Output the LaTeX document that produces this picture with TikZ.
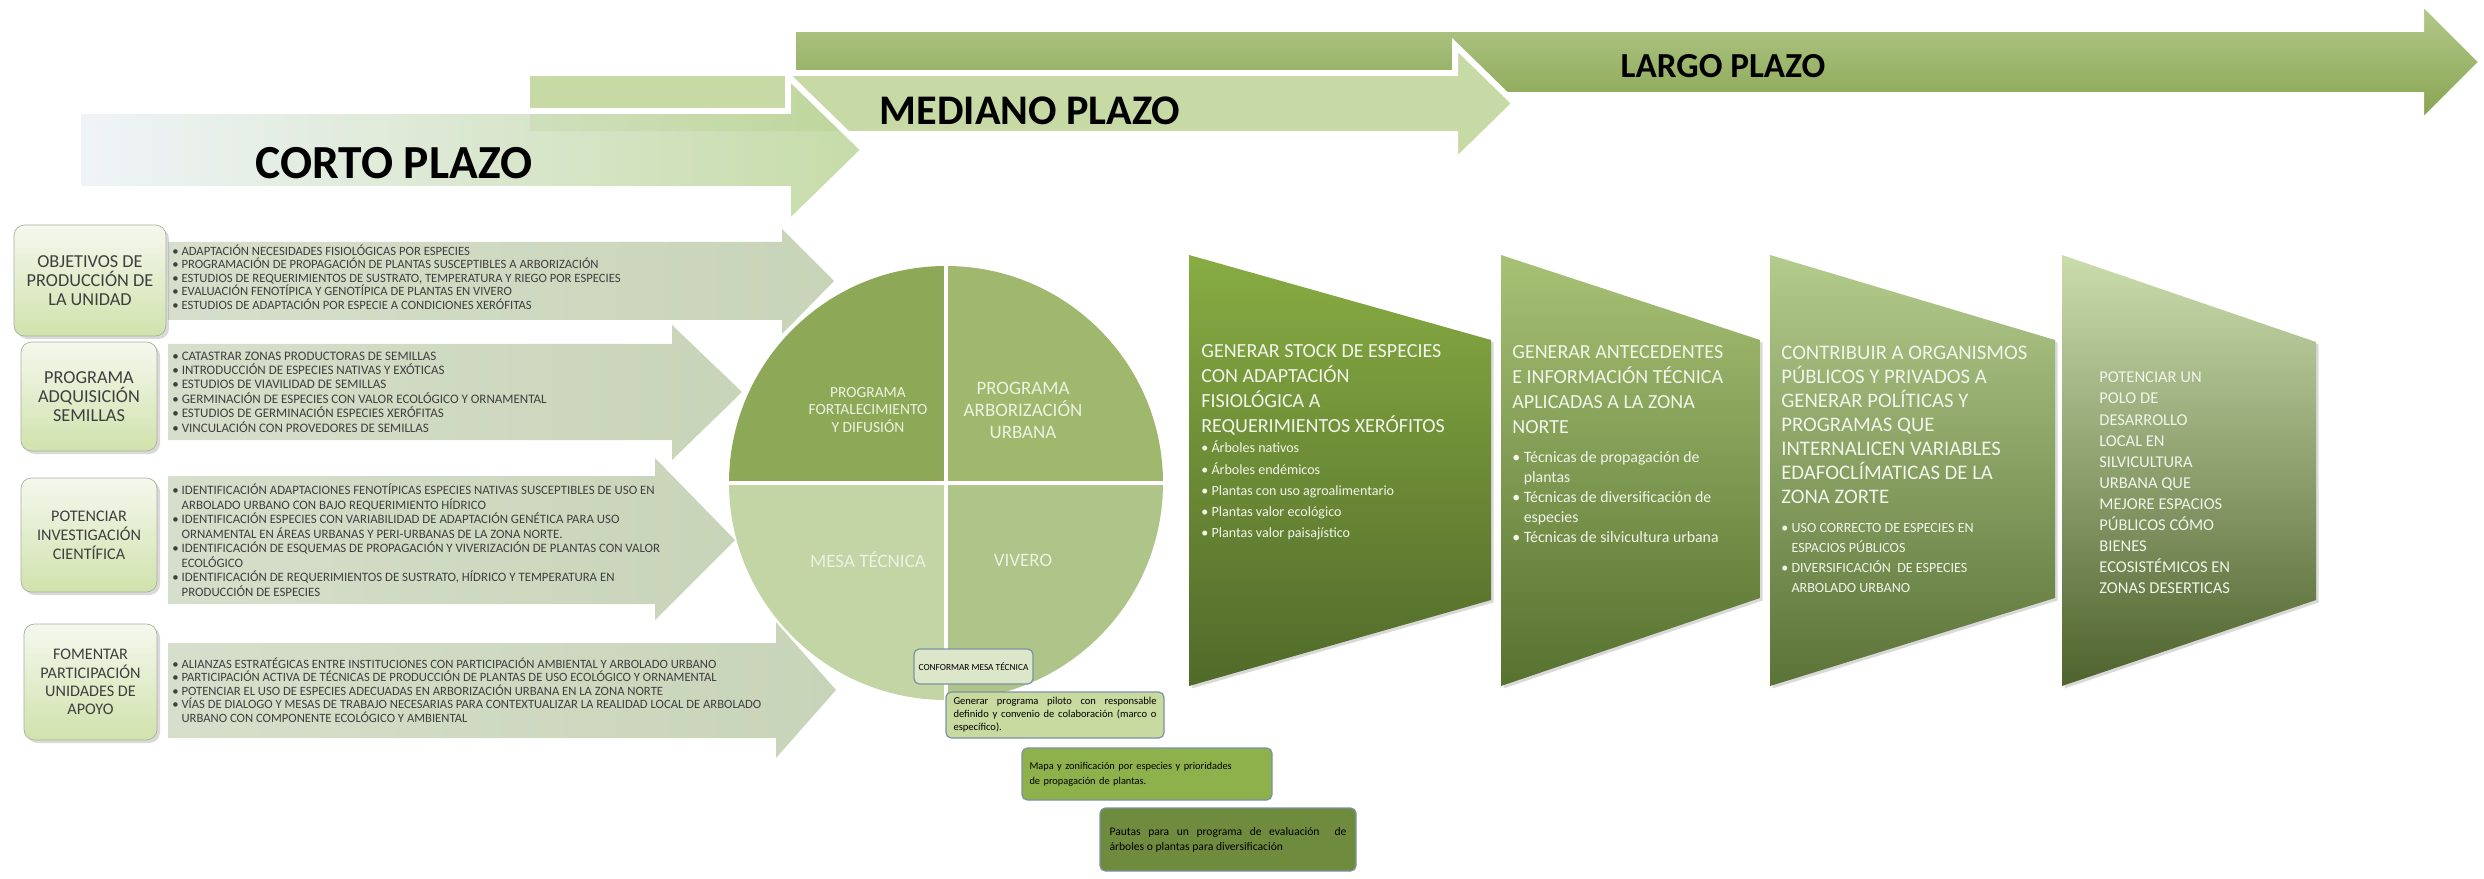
\documentclass[tikz,border=0pt]{standalone}
\usepackage{fontspec}
\setmainfont{Carlito}
\usetikzlibrary{shadows}

\definecolor{largoA}{HTML}{B5CB8E}
\definecolor{largoB}{HTML}{86A24E}
\definecolor{medianoC}{HTML}{C7DAA5}
\definecolor{cortoA}{HTML}{EDF2F7}
\definecolor{cortoB}{HTML}{BCD599}
\definecolor{arrowA}{HTML}{D6DFCB}
\definecolor{arrowB}{HTML}{C8D4B8}
\definecolor{boxA}{HTML}{F5F8EE}
\definecolor{boxB}{HTML}{D0E2AC}
\definecolor{boxline}{HTML}{A9AFA0}
\definecolor{txtgray}{HTML}{3F3F3F}
\definecolor{qTL}{HTML}{8DA957}
\definecolor{qTR}{HTML}{9FB86E}
\definecolor{qBL}{HTML}{C3D4A5}
\definecolor{qBR}{HTML}{AEC489}
\definecolor{qtext}{HTML}{EDF2E1}
\definecolor{smallline}{HTML}{7D92A3}
\definecolor{boxS1}{HTML}{DCE6C8}
\definecolor{boxS2}{HTML}{C8DAA0}
\definecolor{boxS3}{HTML}{8EB14C}
\definecolor{boxS4}{HTML}{6F8C3E}
\definecolor{t1a}{HTML}{88AC43}
\definecolor{t1b}{HTML}{506A29}
\definecolor{t2a}{HTML}{A7C275}
\definecolor{t2b}{HTML}{57712F}
\definecolor{t3a}{HTML}{B3CB8B}
\definecolor{t3b}{HTML}{5C7338}
\definecolor{t4a}{HTML}{CBDCAD}
\definecolor{t4b}{HTML}{4F632E}
\definecolor{trtext}{HTML}{F1F5EA}

\newcommand{\itm}{\textbullet\ }
\newcommand{\hangsp}{\phantom{\textbullet\ }}

\tikzset{
  plazo/.style={inner sep=0},
  horizon/.style={draw=white, line width=3.4pt},
  rowarrow/.style={left color=arrowA, right color=arrowB},
  rowtext/.style={anchor=west, inner sep=0, align=left, text=txtgray},
  labelbox/.style={draw=boxline, rounded corners=6pt, top color=boxA, bottom color=boxB, align=center, text=txtgray, inner sep=2pt,
    drop shadow={opacity=0.3, shadow xshift=0.6mm, shadow yshift=-0.6mm}},
  quadtext/.style={text=qtext, align=center, inner sep=0},
  smallbox/.style={draw=smallline, rounded corners=3pt, line width=0.7pt, inner sep=1pt, text=black},
  nohyph/.style={execute at begin node={\hyphenpenalty=10000\relax}},
  traptitle/.style={anchor=west, align=left, inner sep=0, text=trtext, font=\fontsize{11.4pt}{14.2pt}\selectfont},
  trapitems/.style={anchor=west, align=left, inner sep=0, text=trtext, font=\fontsize{8pt}{11.4pt}\selectfont},
}

\begin{document}
\begin{tikzpicture}[x=0.2mm, y=-0.2mm]
\useasboundingbox (0,0) rectangle (2484,879);

% the three horizons
\path[horizon, top color=largoA, bottom color=largoB]
  (793,29) -- (2421,29) -- (2421,1) -- (2482,62) -- (2421,123) -- (2421,95) -- (793,95) -- cycle;
\path[horizon, fill=medianoC]
  (527,73) -- (1455,73) -- (1455,45) -- (1515,103.5) -- (1455,162) -- (1455,134) -- (527,134) -- cycle;
\path[horizon, left color=cortoA, right color=cortoB, fill opacity=0.85]
  (78,111) -- (788,111) -- (788,76) -- (864,150) -- (788,224) -- (788,189) -- (78,189) -- cycle;

\node[plazo, font=\fontsize{27pt}{30pt}\selectfont\bfseries] (corto) at (394,163) {CORTO PLAZO};
\node[plazo, font=\fontsize{24pt}{27pt}\selectfont\bfseries] (mediano) at (1030,111) {MEDIANO PLAZO};
\node[plazo, font=\fontsize{20pt}{23pt}\selectfont\bfseries] (largo) at (1723,66) {LARGO PLAZO};

% row arrows
\foreach \bt/\bb/\hb/\ha/\hz/\tx/\ty in {242/320/782/229/334/834/281, 344/440/672/325/460/742/392,
    476/604/655/458/620/735/540, 643/738/776/622/758/836/690}
  \path[rowarrow] (168,\bt) -- (\hb,\bt) -- (\hb,\ha) -- (\tx,\ty) -- (\hb,\hz) -- (\hb,\bb) -- (168,\bb) -- cycle;

\node[rowtext, font=\fontsize{7.2pt}{7.7pt}\selectfont] (objtxt) at (172,277) {\itm ADAPTACIÓN NECESIDADES FISIOLÓGICAS POR ESPECIES\\
  \itm PROGRAMACIÓN DE PROPAGACIÓN DE PLANTAS SUSCEPTIBLES A ARBORIZACIÓN\\
  \itm ESTUDIOS DE REQUERIMIENTOS DE SUSTRATO, TEMPERATURA Y RIEGO POR ESPECIES\\
  \itm EVALUACIÓN FENOTÍPICA Y GENOTÍPICA DE PLANTAS EN VIVERO\\
  \itm ESTUDIOS DE ADAPTACIÓN POR ESPECIE A CONDICIONES XERÓFITAS};
\node[rowtext, font=\fontsize{7.4pt}{8.2pt}\selectfont] (semtxt) at (172,392) {\itm CATASTRAR ZONAS PRODUCTORAS DE SEMILLAS\\
  \itm INTRODUCCIÓN DE ESPECIES NATIVAS Y EXÓTICAS\\
  \itm ESTUDIOS DE VIAVILIDAD DE SEMILLAS\\
  \itm GERMINACIÓN DE ESPECIES CON VALOR ECOLÓGICO Y ORNAMENTAL\\
  \itm ESTUDIOS DE GERMINACIÓN ESPECIES XERÓFITAS\\
  \itm VINCULACIÓN CON PROVEDORES DE SEMILLAS};
\node[rowtext, font=\fontsize{7.3pt}{8.25pt}\selectfont] (invtxt) at (172,540) {\itm IDENTIFICACIÓN ADAPTACIONES FENOTÍPICAS ESPECIES NATIVAS SUSCEPTIBLES DE USO EN\\
  \hangsp ARBOLADO URBANO CON BAJO REQUERIMIENTO HÍDRICO\\
  \itm IDENTIFICACIÓN ESPECIES CON VARIABILIDAD DE ADAPTACIÓN GENÉTICA PARA USO\\
  \hangsp ORNAMENTAL EN ÁREAS URBANAS Y PERI-URBANAS DE LA ZONA NORTE.\\
  \itm IDENTIFICACIÓN DE ESQUEMAS DE PROPAGACIÓN Y VIVERIZACIÓN DE PLANTAS CON VALOR\\
  \hangsp ECOLÓGICO\\
  \itm IDENTIFICACIÓN DE REQUERIMIENTOS DE SUSTRATO, HÍDRICO Y TEMPERATURA EN\\
  \hangsp PRODUCCIÓN DE ESPECIES};
\node[rowtext, font=\fontsize{7.2pt}{7.7pt}\selectfont] (apotxt) at (172,690) {\itm ALIANZAS ESTRATÉGICAS ENTRE INSTITUCIONES CON PARTICIPACIÓN AMBIENTAL Y ARBOLADO URBANO\\
  \itm PARTICIPACIÓN ACTIVA DE TÉCNICAS DE PRODUCCIÓN DE PLANTAS DE USO ECOLÓGICO Y ORNAMENTAL\\
  \itm POTENCIAR EL USO DE ESPECIES ADECUADAS EN ARBORIZACIÓN URBANA EN LA ZONA NORTE\\
  \itm VÍAS DE DIALOGO Y MESAS DE TRABAJO NECESARIAS PARA CONTEXTUALIZAR LA REALIDAD LOCAL DE ARBOLADO\\
  \hangsp URBANO CON COMPONENTE ECOLÓGICO Y AMBIENTAL};

% row labels
\node[labelbox, minimum width=30.4mm, minimum height=22.2mm, font=\fontsize{10.4pt}{11pt}\selectfont] (obj) at (90,280.5) {OBJETIVOS DE\\PRODUCCIÓN DE\\LA UNIDAD};
\node[labelbox, minimum width=27.2mm, minimum height=21.8mm, font=\fontsize{10.4pt}{11pt}\selectfont] (sem) at (89,396.5) {PROGRAMA\\ADQUISICIÓN\\SEMILLAS};
\node[labelbox, minimum width=27.2mm, minimum height=22.8mm, font=\fontsize{9.2pt}{10.8pt}\selectfont] (inv) at (89,535) {POTENCIAR\\INVESTIGACIÓN\\CIENTÍFICA};
\node[labelbox, minimum width=26.6mm, minimum height=23.2mm, font=\fontsize{9.2pt}{10.4pt}\selectfont] (apo) at (90.5,682) {FOMENTAR\\PARTICIPACIÓN\\UNIDADES DE\\APOYO};

% circle of programmes
\coordinate (c) at (946,483);
\begin{scope}
  \clip (c) circle (217);
  \fill[qTL] (c) rectangle ++(-220,-220);
  \fill[qTR] (c) rectangle ++(220,-220);
  \fill[qBL] (c) rectangle ++(-220,220);
  \fill[qBR] (c) rectangle ++(220,220);
\end{scope}
\draw[white, line width=2.3pt] (c) ++(0,-220) -- ++(0,440);
\draw[white, line width=2.3pt] (c) ++(-220,0) -- ++(440,0);

\node[quadtext, font=\fontsize{8.8pt}{10.2pt}\selectfont] (fortal) at (868,410) {PROGRAMA\\FORTALECIMIENTO\\Y DIFUSIÓN};
\node[quadtext, font=\fontsize{10.8pt}{12.5pt}\selectfont] (arbor) at (1023,410) {PROGRAMA\\ARBORIZACIÓN\\URBANA};
\node[quadtext, font=\fontsize{10.8pt}{12.5pt}\selectfont] (mesa) at (868,560) {MESA TÉCNICA};
\node[quadtext, font=\fontsize{10.8pt}{12.5pt}\selectfont] (vivero) at (1023,560) {VIVERO};

% steps of the mesa tecnica
\node[smallbox, fill=boxS1, minimum width=23.8mm, minimum height=7mm, font=\fontsize{5.3pt}{6pt}\selectfont] (conformar) at (973.5,666.5) {CONFORMAR MESA TÉCNICA};
\node[smallbox, nohyph, fill=boxS2, minimum width=43.6mm, minimum height=9.2mm, text width=40.6mm, align=justify,
  font=\fontsize{6pt}{7.4pt}\selectfont] (piloto) at (1055,715) {Generar programa piloto con responsable definido y convenio de colaboración (marco o específico).};
\node[smallbox, fill=boxS3, minimum width=50mm, minimum height=10.4mm, text width=47mm, align=left,
  font=\fontsize{5.9pt}{8.5pt}\selectfont] (mapa) at (1147,774) {Mapa y zonificación por especies y prioridades\\de propagación de plantas.};
\node[smallbox, nohyph, fill=boxS4, minimum width=51.2mm, minimum height=12.6mm, text width=47.4mm, align=justify,
  font=\fontsize{6.6pt}{8.5pt}\selectfont] (pautas) at (1228,839.5) {Pautas para un programa de evaluación \ de\linebreak árboles o plantas para diversificación};

% results
\foreach \xl/\xr/\ytr/\ybr/\ctop/\cbot in {1189/1491/340/600/t1a/t1b, 1501/1760/340/598/t2a/t2b,
    1770/2055/340/598/t3a/t3b, 2062/2316/342/600/t4a/t4b}
  \path[top color=\ctop, bottom color=\cbot, drop shadow={opacity=0.3, shadow xshift=0.5mm, shadow yshift=-0.5mm}]
    (\xl,255) -- (\xr,\ytr) -- (\xr,\ybr) -- (\xl,686) -- cycle;

\node[traptitle] (stock) at (1201,389.5) {GENERAR STOCK DE ESPECIES\\CON ADAPTACIÓN\\FISIOLÓGICA A\\REQUERIMIENTOS XERÓFITOS};
\node[trapitems, font=\fontsize{8pt}{12pt}\selectfont] (stocklist) at (1201,490.5) {\itm Árboles nativos\\\itm Árboles endémicos\\\itm Plantas con uso agroalimentario\\\itm Plantas valor ecológico\\\itm Plantas valor paisajístico};

\node[traptitle] (antec) at (1512,389.5) {GENERAR ANTECEDENTES\\E INFORMACIÓN TÉCNICA\\APLICADAS A LA ZONA\\NORTE};
\node[trapitems, font=\fontsize{9pt}{11.4pt}\selectfont] (anteclist) at (1512,497) {\itm Técnicas de propagación de\\\hangsp plantas\\\itm Técnicas de diversificación de\\\hangsp especies\\\itm Técnicas de silvicultura urbana};

\node[traptitle, font=\fontsize{11.8pt}{13.7pt}\selectfont] (contrib) at (1781,425) {CONTRIBUIR A ORGANISMOS\\PÚBLICOS Y PRIVADOS A\\GENERAR POLÍTICAS Y\\PROGRAMAS QUE\\INTERNALICEN VARIABLES\\EDAFOCLÍMATICAS DE LA\\ZONA ZORTE};
\node[trapitems] (contriblist) at (1781,558) {\itm USO CORRECTO DE ESPECIES EN\\\hangsp ESPACIOS PÚBLICOS\\\itm DIVERSIFICACIÓN \ DE ESPECIES\\\hangsp ARBOLADO URBANO};

\node[trapitems, font=\fontsize{9.4pt}{12pt}\selectfont] (polo) at (2099,483) {POTENCIAR UN\\POLO DE\\DESARROLLO\\LOCAL EN\\SILVICULTURA\\URBANA QUE\\MEJORE ESPACIOS\\PÚBLICOS CÓMO\\BIENES\\ECOSISTÉMICOS EN\\ZONAS DESERTICAS};

\end{tikzpicture}
\end{document}
